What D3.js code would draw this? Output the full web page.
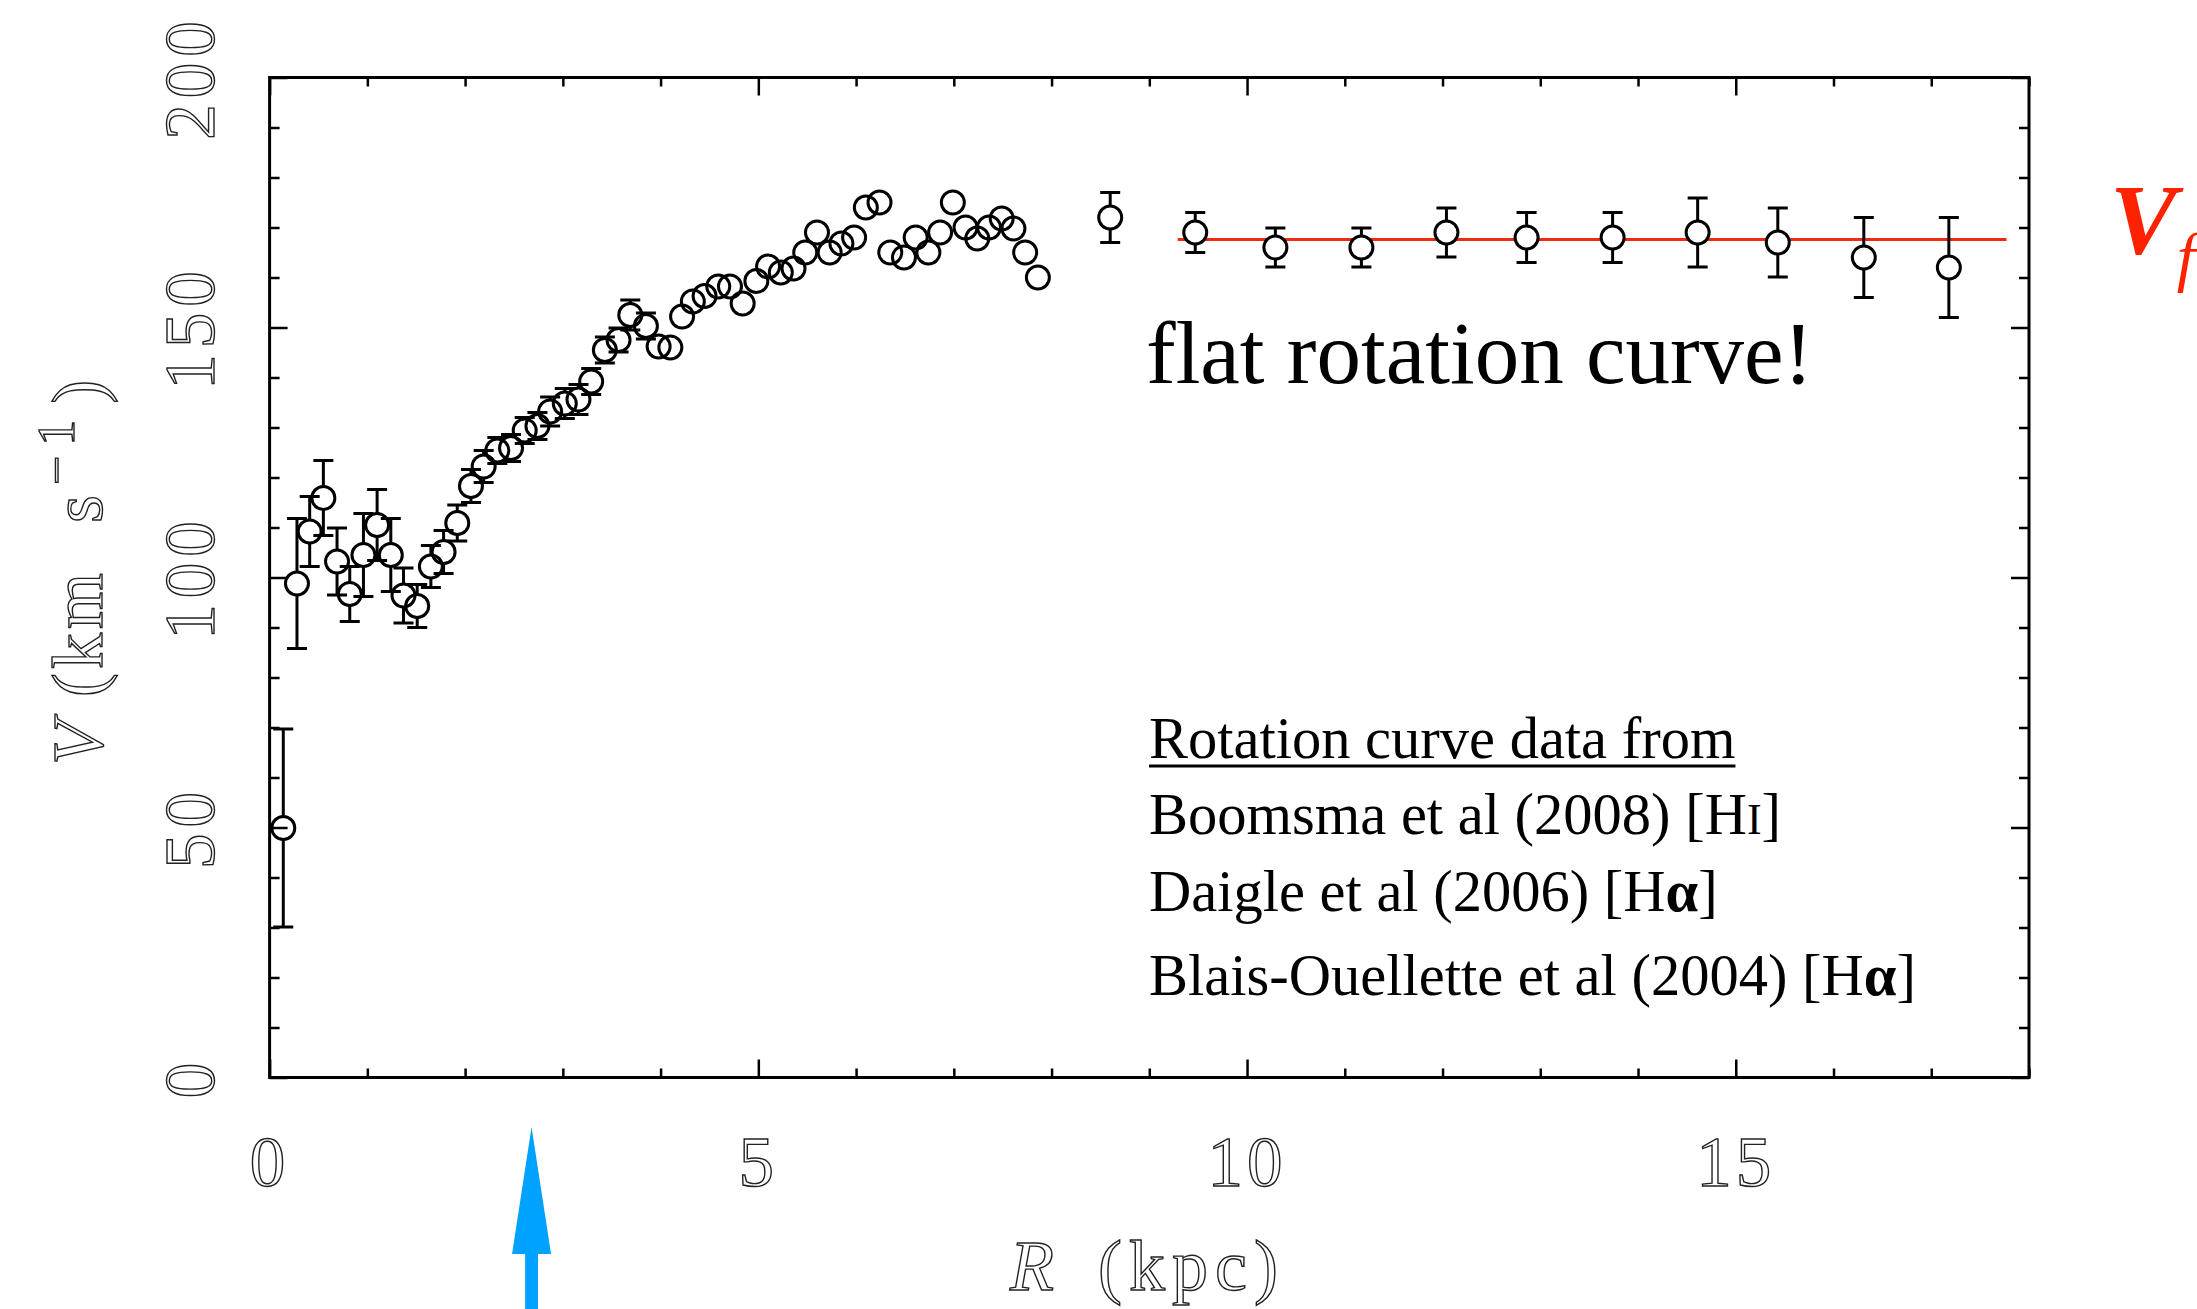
<!DOCTYPE html>
<html>
<head>
<meta charset="utf-8">
<script src="https://cdn.jsdelivr.net/npm/d3@7"></script>
<style>
  html, body { margin: 0; padding: 0; background: #fff; }
  svg { display: block; }
</style>
</head>
<body>
<svg id="chart" width="2197" height="1309"></svg>
<script>
// inner rotation curve (dense H-alpha points)
const rInner = [0.14, 0.28, 0.41, 0.55, 0.69, 0.82, 0.96, 1.10, 1.24, 1.37, 1.51, 1.65, 1.78, 1.92, 2.06,
  2.19, 2.33, 2.47, 2.61, 2.74, 2.87, 3.02, 3.16, 3.29, 3.43, 3.57, 3.69, 3.85, 3.98, 4.10, 4.22, 4.33,
  4.45, 4.59, 4.71, 4.84, 4.98, 5.10, 5.23, 5.36, 5.48, 5.60, 5.73, 5.85, 5.98, 6.10, 6.24, 6.35, 6.49,
  6.61, 6.74, 6.86, 6.99, 7.12, 7.24, 7.36, 7.49, 7.61, 7.73, 7.86];
const vInner = [49.9, 98.8, 109.2, 115.9, 103.2, 96.7, 104.5, 110.5, 104.5, 96.4, 94.3, 102.2, 105.1, 110.9, 118.3,
  122.2, 125.4, 125.9, 129.4, 130.3, 133.2, 134.8, 135.6, 139.2, 145.5, 147.5, 152.5, 150.3, 146.2, 146.0, 152.2, 155.2,
  156.3, 158.2, 158.2, 154.8, 159.3, 162.2, 161.0, 161.8, 165.0, 169.0, 165.0, 166.8, 168.0, 174.0, 175.0, 165.0, 164.0,
  168.0, 165.0, 169.0, 175.0, 170.0, 167.8, 170.0, 171.8, 169.8, 165.0, 160.0];
const eInner = [19.8, 13.0, 7.0, 7.5, 6.7, 5.5, 8.3, 7.1, 7.3, 5.5, 4.3, 4.2, 4.3, 3.6, 3.3,
  3.2, 2.6, 2.7, 2.6, 2.7, 2.9, 3.0, 3.0, 2.6, 2.6, 2.4, 3.0, 2.6, 1.5, 1.5, 1.5, 1.5,
  1.5, 1.5, 1.5, 1.5, 1.5, 1.5, 1.5, 1.5, 1.5, 1.5, 1.5, 1.5, 1.5, 1.5, 1.5, 1.5, 1.5,
  1.5, 1.5, 1.5, 1.5, 1.5, 1.5, 1.5, 1.5, 1.5, 1.5, 1.5];

// outer HI points
const rOuter = [8.60, 9.47, 10.29, 11.17, 12.04, 12.86, 13.74, 14.61, 15.43, 16.31, 17.18];
const vOuter = [172.0, 169.0, 166.0, 166.0, 169.0, 168.0, 168.0, 169.0, 167.0, 164.0, 162.0];
const eOuter = [5.0, 4.0, 3.9, 3.9, 4.9, 5.0, 5.0, 6.9, 6.9, 8.0, 10.0];

// flat velocity line
const vFlat = 167.6;
const vFlatRange = [9.29, 17.77];
const arrowR = 2.68;

const xTickLabels = [0, 5, 10, 15];
const yTickLabels = [0, 50, 100, 150, 200];

const legendLines = [
  [{ t: "Rotation curve data from" }],
  [{ t: "Boomsma et al (2008) [H" }, { t: "I", small: true }, { t: "]" }],
  [{ t: "Daigle et al (2006) [H" }, { t: "α", bold: true }, { t: "]" }],
  [{ t: "Blais-Ouellette et al (2004) [H" }, { t: "α", bold: true }, { t: "]" }]
];

const svg = d3.select("#chart");
const W = 2197, H = 1309;
const margin = { top: 77.5, right: 168, bottom: 231.5, left: 269.6 };
const plotW = W - margin.left - margin.right;
const plotH = H - margin.top - margin.bottom;

svg.append("rect").attr("width", W).attr("height", H).attr("fill", "#fff");

const x = d3.scaleLinear().domain([0, 18]).range([margin.left, margin.left + plotW]);
const y = d3.scaleLinear().domain([0, 200]).range([margin.top + plotH, margin.top]);

const SYM_R = 11.5;
const CAP = 10;
const toPts = (rs, vs, es) => rs.map((r, i) => ({ r, v: vs[i], e: es[i] }));
const inner = toPts(rInner, vInner, eInner);
const outer = toPts(rOuter, vOuter, eOuter);

// Error bars drawn outward from the symbol edge
function errorBars(g, data) {
  const vis = data.filter(d => y(d.v) - y(d.v + d.e) > SYM_R);
  const eg = g.append("g").attr("stroke", "#000").attr("stroke-width", 3).attr("fill", "none");
  vis.forEach(d => {
    const cx = x(d.r), cy = y(d.v);
    const top = y(d.v + d.e), bot = y(d.v - d.e);
    eg.append("line").attr("x1", cx).attr("x2", cx).attr("y1", top).attr("y2", cy - SYM_R);
    eg.append("line").attr("x1", cx).attr("x2", cx).attr("y1", cy + SYM_R).attr("y2", bot);
    eg.append("line").attr("x1", cx - CAP).attr("x2", cx + CAP).attr("y1", top).attr("y2", top);
    eg.append("line").attr("x1", cx - CAP).attr("x2", cx + CAP).attr("y1", bot).attr("y2", bot);
  });
}

// red flat line
svg.append("line")
  .attr("x1", x(vFlatRange[0])).attr("x2", x(vFlatRange[1]))
  .attr("y1", y(vFlat)).attr("y2", y(vFlat))
  .attr("stroke", "#ee2a12").attr("stroke-width", 3);

const pts = svg.append("g");
errorBars(pts, inner);
errorBars(pts, outer);

pts.append("g").selectAll("circle").data(inner).join("circle")
  .attr("cx", d => x(d.r)).attr("cy", d => y(d.v)).attr("r", SYM_R)
  .attr("fill", "none").attr("stroke", "#000").attr("stroke-width", 3);

pts.append("g").selectAll("circle").data(outer).join("circle")
  .attr("cx", d => x(d.r)).attr("cy", d => y(d.v)).attr("r", SYM_R)
  .attr("fill", "#fff").attr("stroke", "#000").attr("stroke-width", 3);

// Axes: inward ticks on all four sides
function styleTicks(g, isMajor, major, minor) {
  g.select(".domain").remove();
  g.selectAll(".tick line")
    .attr("stroke", "#000").attr("stroke-width", 2.5);
  g.selectAll(".tick").each(function (d) {
    const ln = d3.select(this).select("line");
    const len = isMajor(d) ? major : minor;
    if (ln.attr("x2") !== null && +ln.attr("x2") !== 0) ln.attr("x2", Math.sign(+ln.attr("x2")) * len);
    if (ln.attr("y2") !== null && +ln.attr("y2") !== 0) ln.attr("y2", Math.sign(+ln.attr("y2")) * len);
  });
}
const xt = d3.range(0, 19);
const yt = d3.range(0, 201, 10);
const xMaj = d => d % 5 === 0;
const yMaj = d => d % 50 === 0;

svg.append("g").attr("transform", `translate(0,${margin.top + plotH})`)
  .call(d3.axisBottom(x).tickValues(xt).tickSize(-9).tickFormat(""))
  .call(g => styleTicks(g, xMaj, 18, 9));
svg.append("g").attr("transform", `translate(0,${margin.top})`)
  .call(d3.axisTop(x).tickValues(xt).tickSize(-9).tickFormat(""))
  .call(g => styleTicks(g, xMaj, 18, 9));
svg.append("g").attr("transform", `translate(${margin.left},0)`)
  .call(d3.axisLeft(y).tickValues(yt).tickSize(-10).tickFormat(""))
  .call(g => styleTicks(g, yMaj, 18, 10));
svg.append("g").attr("transform", `translate(${margin.left + plotW},0)`)
  .call(d3.axisRight(y).tickValues(yt).tickSize(-10).tickFormat(""))
  .call(g => styleTicks(g, yMaj, 18, 10));

svg.append("rect")
  .attr("x", margin.left).attr("y", margin.top)
  .attr("width", plotW).attr("height", plotH)
  .attr("fill", "none").attr("stroke", "#000").attr("stroke-width", 3);

// Hollow serif labels (like the original plotting package)
const labelFont = "'Liberation Serif', 'Times New Roman', serif";
function hollow(sel) {
  return sel.attr("font-family", labelFont).attr("fill", "#fff")
    .attr("stroke", "#222").attr("stroke-width", 1.4);
}

hollow(svg.append("g").selectAll("text").data(xTickLabels).join("text")
  .attr("x", d => x(d)).attr("y", 1186)
  .attr("text-anchor", "middle").attr("font-size", 71).attr("letter-spacing", 4)
  .text(d => d));

hollow(svg.append("g").selectAll("text").data(yTickLabels).join("text")
  .attr("transform", d => `translate(214,${y(d)}) rotate(-90)`)
  .attr("text-anchor", "middle").attr("font-size", 71).attr("letter-spacing", 6)
  .text(d => d));

// x title
const xTitle = hollow(svg.append("text").attr("x", 1010).attr("y", 1290).attr("font-size", 72));
xTitle.append("tspan").attr("font-style", "italic").text("R");
xTitle.append("tspan").attr("dx", 44).attr("letter-spacing", 7).text("(kpc)");

// y title
const yTitle = hollow(svg.append("text")
  .attr("transform", "translate(102,765) rotate(-90)").attr("font-size", 72));
yTitle.append("tspan").attr("font-style", "italic").text("V");
yTitle.append("tspan").attr("dx", 24).attr("letter-spacing", 4).text("(km");
yTitle.append("tspan").attr("dx", 46).text("s");
yTitle.append("tspan").attr("dx", 10).attr("dy", -28).attr("font-size", 52).attr("letter-spacing", 10).text("−1");
yTitle.append("tspan").attr("dx", 6).attr("dy", 28).text(")");

// annotation
svg.append("text")
  .attr("x", 1146).attr("y", 383)
  .attr("font-family", labelFont).attr("font-size", 89).attr("fill", "#000")
  .text("flat rotation curve!");

// legend block
const legendY = [758, 834, 911, 995];
const lg = svg.append("g").attr("font-family", labelFont).attr("font-size", 58.5).attr("fill", "#000");
legendLines.forEach((parts, i) => {
  const t = lg.append("text").attr("x", 1149).attr("y", legendY[i]);
  parts.forEach(p => {
    const s = t.append("tspan").text(p.t);
    if (p.small) s.attr("font-size", 44);
    if (p.bold) s.attr("font-weight", "bold");
  });
  if (i === 0) {
    const bb = t.node().getBBox();
    lg.append("line").attr("x1", bb.x).attr("x2", bb.x + bb.width)
      .attr("y1", legendY[0] + 8).attr("y2", legendY[0] + 8)
      .attr("stroke", "#000").attr("stroke-width", 3);
  }
});

// V_f label
const vf = svg.append("text").attr("x", 2110).attr("y", 253)
  .attr("font-family", labelFont).attr("fill", "#ff2200");
vf.append("tspan").attr("font-size", 100).attr("font-style", "italic").attr("font-weight", "bold").text("V");
vf.append("tspan").attr("font-size", 66).attr("font-style", "italic").attr("dx", 0).attr("dy", 26).text("f");

// blue arrow marking a radius
const ax = x(arrowR);
const arrowPath = d3.path();
arrowPath.moveTo(ax, 1127);
arrowPath.lineTo(ax + 19.5, 1254);
arrowPath.lineTo(ax + 6.4, 1254);
arrowPath.lineTo(ax + 6.4, H);
arrowPath.lineTo(ax - 6.4, H);
arrowPath.lineTo(ax - 6.4, 1254);
arrowPath.lineTo(ax - 19.5, 1254);
arrowPath.closePath();
svg.append("path").attr("d", arrowPath.toString()).attr("fill", "#00a2ff");
</script>
</body>
</html>
